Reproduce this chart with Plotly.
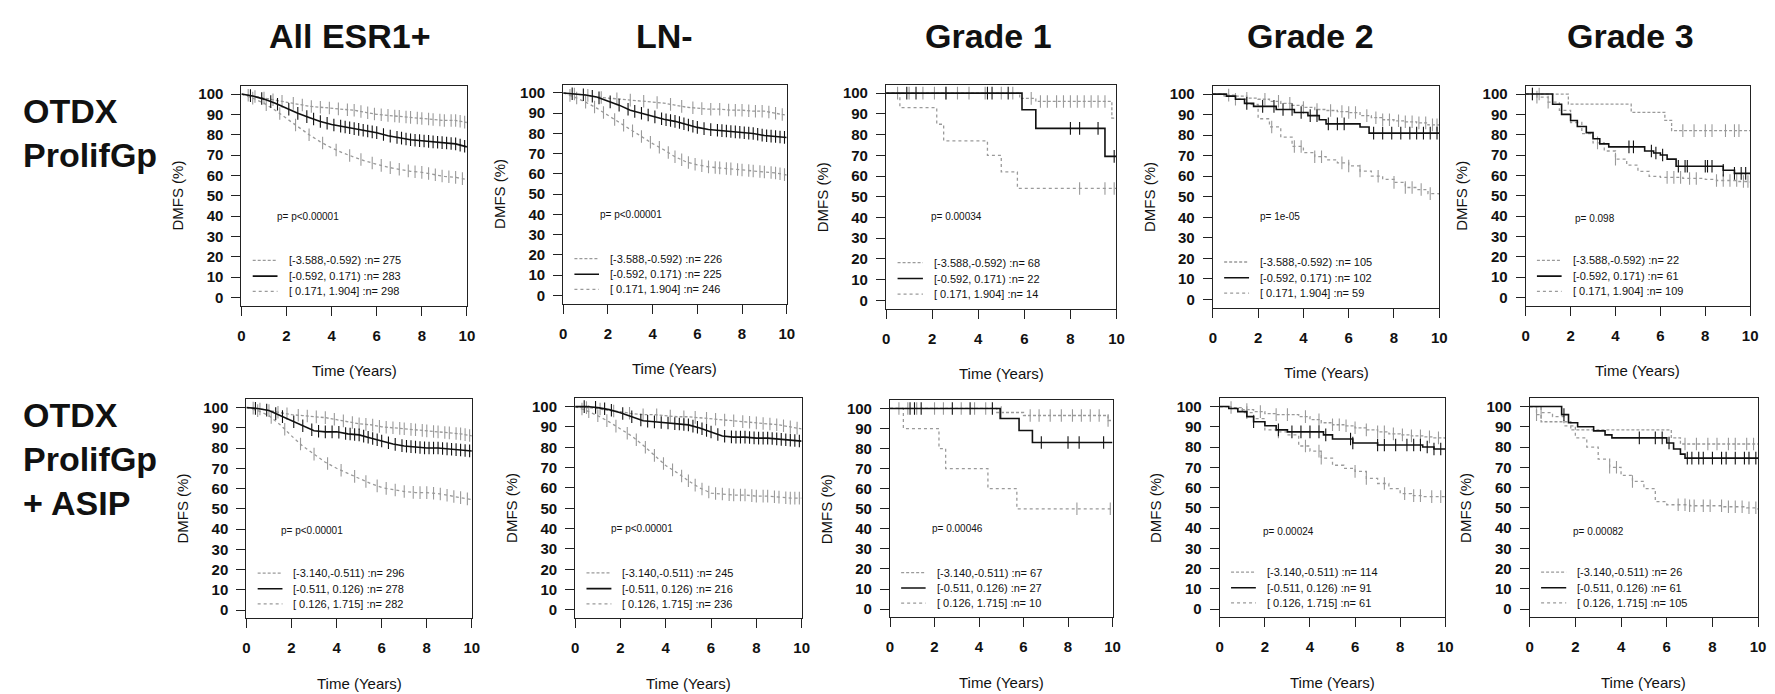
import plotly.graph_objects as go
import numpy as np
from bisect import bisect_right

W, H = 1775, 694

# ---------------- data ----------------
GRID = [0, 0.5, 1, 1.5, 2, 2.5, 3, 3.5, 4, 4.5, 5, 5.5, 6, 6.5, 7, 7.5, 8, 8.5, 9, 9.5, 10]

COL_TITLES = ["All ESR1+", "LN-", "Grade 1", "Grade 2", "Grade 3"]
ROW_LABELS_TOP = ["OTDX", "ProlifGp"]
ROW_LABELS_BOT = ["OTDX", "ProlifGp", "+ ASIP"]

GROUPS_TOP = ["[-3.588,-0.592) :n= ", "[-0.592, 0.171) :n= ", "[ 0.171, 1.904] :n= "]
GROUPS_BOT = ["[-3.140,-0.511) :n= ", "[-0.511, 0.126) :n= ", "[ 0.126, 1.715] :n= "]

N_TOP = [[275, 283, 298], [226, 225, 246], [68, 22, 14], [105, 102, 59], [22, 61, 109]]
N_BOT = [[296, 278, 282], [245, 216, 236], [67, 27, 10], [114, 91, 61], [26, 61, 105]]

P_TOP = ["p= p&lt;0.00001", "p= p&lt;0.00001", "p= 0.00034", "p= 1e-05", "p= 0.098"]
P_BOT = ["p= p&lt;0.00001", "p= p&lt;0.00001", "p= 0.00046", "p= 0.00024", "p= 0.00082"]

# --- Top row: OTDX ProlifGp ---
ALL1_LO = [100, 99, 98, 97, 96, 95, 94, 93.5, 93, 92.5, 92, 91, 90, 89.5, 89, 88.5, 88, 87.5, 87, 87, 86]
ALL1_MID = [100, 99, 97.5, 95.5, 93, 90.5, 88.5, 86.5, 85, 84, 83, 82, 81, 79.5, 78.5, 77.5, 77, 76.5, 76, 75.5, 74]
ALL1_HI = [100, 98, 95.5, 92, 88, 84, 80, 76.5, 73.5, 71, 69, 67, 65.5, 64, 63, 62, 61.5, 60.5, 59.5, 59, 58]

LN1_LO = [100, 99.5, 99, 98, 97.5, 97, 96.5, 96, 95.5, 95, 94, 93, 92.5, 92, 92, 91.5, 91.5, 91, 91, 90, 89]
LN1_MID = [100, 99.5, 99, 98, 96, 94, 91.5, 90, 88.5, 87, 86, 84.5, 83, 82, 81.5, 81, 80.5, 80, 79, 78.5, 78]
LN1_HI = [100, 98, 95.5, 92.5, 89, 85.5, 82, 78.5, 75, 72, 68.5, 66, 64.5, 63.5, 63, 62.5, 62, 61.5, 61, 60.5, 59.5]

G1T_LO_T = [0, 5.8, 6.5, 9.8, 10]
G1T_LO_S = [100, 97.5, 96, 88, 88]
G1T_MID_T = [0, 5.9, 6.5, 9.5, 10]
G1T_MID_S = [100, 92, 83, 69.5, 69.5]
G1T_HI_T = [0, 0.6, 2.2, 2.5, 4.4, 5.0, 5.7, 10]
G1T_HI_S = [100, 93, 85, 77, 70, 62, 54, 54]

G2T_LO = [100, 99.5, 99, 98, 97.5, 96.5, 95.5, 94.5, 93.5, 92.5, 92, 91.5, 91, 89.5, 88.5, 87.5, 87, 86.5, 86, 85, 84.5]
G2T_MID_T = [0, 0.6, 1.0, 1.4, 1.8, 2.8, 3.6, 4.2, 4.7, 5.0, 6.5, 6.9, 10]
G2T_MID_S = [100, 99, 97.5, 95.5, 94, 92.5, 91, 89.5, 87.5, 85.5, 84, 81, 81]
G2T_HI = [100, 99, 97.5, 95, 88, 84, 79, 74.5, 71.5, 69.5, 68, 66.5, 65, 62.5, 60, 58.5, 57, 54.5, 53.5, 51.5, 50]

G3T_LO_T = [0, 1.9, 4.7, 6.2, 6.5, 10]
G3T_LO_S = [100, 95, 91, 87, 82, 82]
G3T_MID_T = [0, 1.2, 1.6, 2.0, 2.3, 2.7, 3.0, 3.3, 3.7, 5.3, 5.7, 6.0, 6.3, 6.7, 8.8, 9.3, 10]
G3T_MID_S = [100, 95, 90, 87, 84, 81, 78, 75.5, 74, 72, 71, 70, 68, 64.5, 62.5, 61, 61]
G3T_HI = [100, 98.5, 96, 92, 86, 80.5, 76, 72, 68, 65, 62, 59.5, 59, 59, 58.5, 58.5, 58, 57.5, 57.5, 57, 56.5]

# --- Bottom row: OTDX ProlifGp + ASIP ---
ALL2_LO = [100, 99.5, 98.5, 97.5, 96.5, 96, 95.5, 95, 94, 93, 92, 91.5, 90.5, 90, 89.5, 89, 88.5, 88, 87.5, 87, 86]
ALL2_MID = [100, 99.5, 98.5, 96, 93.5, 91, 88.5, 88, 88, 87, 86.5, 85, 83.5, 82, 81, 80.5, 80, 80, 79.5, 79, 78.5]
ALL2_HI = [100, 98.5, 96, 91.5, 86, 81, 77, 73, 70, 67.5, 65, 62.5, 60.5, 59.5, 58.5, 58, 58, 57.5, 56.5, 55.5, 54.5]

LN2_LO = [100, 99.5, 99, 98, 97.5, 96.5, 96, 96, 95.5, 95, 95, 94.5, 94, 93.5, 93, 92.5, 92, 91.5, 91, 90, 89]
LN2_MID = [100, 100, 99.5, 98.5, 97, 95, 93, 92.5, 92, 91.5, 91, 89.5, 87.5, 85.5, 85, 85, 84.5, 84.5, 84, 83.5, 83]
LN2_HI = [100, 98, 95.5, 92.5, 89, 85.5, 81, 76, 71, 67.5, 63.5, 60, 57.5, 57, 56.5, 56.5, 56, 56, 55.5, 55, 55]

G1B_LO_T = [0, 4.8, 6.0, 9.8, 10]
G1B_LO_S = [100, 98, 96.5, 94, 94]
G1B_MID_T = [0, 4.95, 5.8, 6.4, 10]
G1B_MID_S = [100, 95, 89, 83, 83]
G1B_HI_T = [0, 0.6, 2.2, 2.5, 4.4, 5.7, 10]
G1B_HI_S = [100, 90, 80, 70, 60, 50, 50]

G2B_LO = [100, 99.5, 98.5, 97.5, 96.5, 96, 96, 95, 93.5, 92, 91, 90.5, 89.5, 88.5, 87.5, 86.5, 86, 85.5, 85, 84.5, 84]
G2B_MID_T = [0, 0.4, 0.8, 1.2, 1.5, 2.0, 2.5, 3.0, 4.6, 5.0, 5.9, 7.0, 9.0, 9.5, 10]
G2B_MID_S = [100, 99, 97.5, 95, 92.5, 90.5, 88.5, 87.5, 86, 84, 82, 81, 80, 79, 79]
G2B_HI = [100, 99, 97, 94, 88.5, 87.5, 86, 80.5, 78, 74.5, 71, 69.5, 68, 64.5, 62, 59.5, 57, 56, 55.5, 55.5, 55]

G3B_LO_T = [0, 0.3, 0.5, 1.8, 6.2, 6.6, 10]
G3B_LO_S = [100, 96, 92.5, 88.5, 84.5, 81.5, 81.5]
G3B_MID_T = [0, 1.4, 1.7, 2.1, 2.8, 3.3, 3.6, 6.0, 6.3, 6.6, 6.8, 10]
G3B_MID_S = [100, 96, 92, 90, 88, 86, 84.5, 82, 79, 76.5, 74.5, 74.5]
G3B_HI = [100, 97, 95, 90.5, 84.5, 80, 74, 70, 66, 63, 59.5, 53, 51.5, 51.5, 51, 51, 51, 50.5, 50.5, 50, 49]

# --- censoring times (read from the "+" marks) ---
C_DENSE_A = [0.3, 0.6, 1.0, 1.4, 1.8, 2.3, 2.7, 3.1, 3.5, 3.9, 4.3, 4.7, 5.0, 5.3, 5.6, 5.9, 6.2, 6.5, 6.8, 7.0,
             7.3, 7.5, 7.8, 8.0, 8.3, 8.5, 8.8, 9.0, 9.3, 9.5, 9.7, 9.9]
C_DENSE_B = [0.4, 0.9, 1.3, 1.6, 2.1, 2.5, 2.9, 3.2, 3.5, 3.8, 4.1, 4.4, 4.6, 4.8, 5.0, 5.2, 5.4, 5.6, 5.8, 6.0,
             6.3, 6.6, 6.9, 7.1, 7.3, 7.5, 7.7, 7.9, 8.1, 8.3, 8.5, 8.7, 8.9, 9.1, 9.3, 9.5, 9.7, 9.9]
C_DENSE_C = [0.5, 1.1, 1.7, 2.4, 3.0, 3.6, 4.2, 4.8, 5.3, 5.8, 6.2, 6.6, 7.0, 7.4, 7.7, 8.0, 8.3, 8.6, 8.9, 9.2,
             9.5, 9.8]

C_G1T = [[0.5, 1.0, 1.6, 2.1, 2.6, 3.1, 3.6, 4.3, 5.0, 5.5, 6.3, 6.7, 7.0, 7.4, 7.7, 8.0, 8.3, 8.6, 8.9, 9.2, 9.5],
         [0.9, 1.3, 2.6, 4.4, 4.6, 5.3, 8.0, 8.4, 9.2, 9.9],
         [8.4, 9.5, 9.9]]
C_G2T = [[0.7, 1.5, 2.3, 2.9, 3.4, 4.0, 4.6, 5.2, 5.7, 6.0, 6.3, 6.8, 7.2, 7.5, 7.8, 8.2, 8.5, 8.8, 9.1, 9.4, 9.7, 9.9],
         [1.5, 2.2, 2.7, 3.1, 3.5, 3.9, 4.3, 4.6, 5.1, 5.5, 5.8, 7.1, 7.5, 7.9, 8.3, 8.7, 9.0, 9.3, 9.6, 9.9],
         [1.0, 2.6, 3.6, 3.9, 4.5, 4.8, 5.7, 6.0, 6.5, 7.3, 8.0, 8.5, 8.8, 9.2, 9.6]]
C_G3T = [[0.3, 0.6, 7.0, 7.5, 8.0, 8.3, 8.9, 9.3, 9.5],
         [0.3, 4.6, 4.8, 5.6, 5.8, 6.1, 6.8, 7.1, 7.2, 8.0, 8.1, 8.3, 8.8, 9.3, 9.6, 9.8],
         [0.5, 1.0, 3.2, 4.0, 6.3, 6.6, 6.9, 7.3, 7.6, 8.5, 8.8, 9.1, 9.4, 9.7, 9.9]]
C_G1B = [[0.4, 0.8, 1.2, 2.0, 2.4, 3.2, 3.8, 4.3, 5.0, 6.3, 6.7, 7.2, 7.7, 8.2, 8.6, 9.0, 9.4, 9.8],
         [0.9, 1.1, 1.4, 2.8, 3.6, 4.6, 6.8, 8.0, 8.5, 9.6],
         [8.4, 9.9]]
C_G2B = [[0.5, 1.2, 1.8, 2.5, 3.0, 3.8, 4.4, 5.0, 5.3, 5.6, 6.0, 6.5, 7.0, 7.3, 7.7, 8.1, 8.5, 8.9, 9.3, 9.7],
         [1.5, 2.6, 3.2, 3.6, 4.0, 4.4, 4.7, 5.8, 5.9, 7.0, 7.3, 7.8, 8.3, 8.6, 8.9, 9.2, 9.5, 9.8],
         [1.2, 2.6, 3.8, 4.4, 4.5, 6.0, 6.5, 7.3, 8.2, 8.6, 8.9, 9.4, 9.8]]
C_G3B = [[0.3, 6.8, 7.3, 7.8, 8.2, 8.7, 9.0, 9.5, 9.8],
         [1.5, 4.8, 5.5, 5.8, 6.1, 6.9, 7.1, 7.4, 7.6, 8.0, 8.4, 8.6, 9.0, 9.4, 9.6, 9.9],
         [0.5, 3.5, 3.8, 4.5, 6.5, 6.8, 7.0, 7.2, 7.6, 7.9, 8.4, 8.7, 9.0, 9.3, 9.6, 9.9]]

# ---------------- table built from the arrays ----------------
# each curve: (times, survival, interpolation, censor times)
PANELS = [
    # top row
    [(GRID, ALL1_LO, "linear", C_DENSE_A), (GRID, ALL1_MID, "linear", C_DENSE_B), (GRID, ALL1_HI, "linear", C_DENSE_C)],
    [(GRID, LN1_LO, "linear", C_DENSE_C), (GRID, LN1_MID, "linear", C_DENSE_B), (GRID, LN1_HI, "linear", C_DENSE_A)],
    [(G1T_LO_T, G1T_LO_S, "hv", C_G1T[0]), (G1T_MID_T, G1T_MID_S, "hv", C_G1T[1]), (G1T_HI_T, G1T_HI_S, "hv", C_G1T[2])],
    [(GRID, G2T_LO, "hv", C_G2T[0]), (G2T_MID_T, G2T_MID_S, "hv", C_G2T[1]), (GRID, G2T_HI, "hv", C_G2T[2])],
    [(G3T_LO_T, G3T_LO_S, "hv", C_G3T[0]), (G3T_MID_T, G3T_MID_S, "hv", C_G3T[1]), (GRID, G3T_HI, "hv", C_G3T[2])],
    # bottom row
    [(GRID, ALL2_LO, "linear", C_DENSE_A), (GRID, ALL2_MID, "linear", C_DENSE_B), (GRID, ALL2_HI, "linear", C_DENSE_C)],
    [(GRID, LN2_LO, "linear", C_DENSE_C), (GRID, LN2_MID, "linear", C_DENSE_B), (GRID, LN2_HI, "linear", C_DENSE_A)],
    [(G1B_LO_T, G1B_LO_S, "hv", C_G1B[0]), (G1B_MID_T, G1B_MID_S, "hv", C_G1B[1]), (G1B_HI_T, G1B_HI_S, "hv", C_G1B[2])],
    [(GRID, G2B_LO, "hv", C_G2B[0]), (G2B_MID_T, G2B_MID_S, "hv", C_G2B[1]), (GRID, G2B_HI, "hv", C_G2B[2])],
    [(G3B_LO_T, G3B_LO_S, "hv", C_G3B[0]), (G3B_MID_T, G3B_MID_S, "hv", C_G3B[1]), (GRID, G3B_HI, "hv", C_G3B[2])],
]
LEGENDS = [[GROUPS_TOP[g] + str(N_TOP[c][g]) for g in range(3)] for c in range(5)] + \
          [[GROUPS_BOT[g] + str(N_BOT[c][g]) for g in range(3)] for c in range(5)]
PVALS = P_TOP + P_BOT

# ---------------- layout (pixel boxes of each plot region) ----------------
BOXES = [  # left, right, top, bottom
    (231, 458, 77, 297), (555, 780, 76, 295), (880, 1112, 76, 300), (1209, 1437, 77, 299), (1524, 1750, 77, 297),
    (236, 463, 391, 610), (567, 795, 390, 610), (884, 1108, 392, 609), (1216, 1443, 390, 609), (1528, 1758, 390, 609),
]
P_POS = [(1.5, 40), (1.55, 40), (1.85, 40.5), (2.0, 40.5), (2.1, 39),
         (1.45, 39.5), (1.5, 40), (1.8, 40), (1.85, 38.5), (1.8, 38.5)]
TITLE_X = [340, 657, 983, 1307, 1630]

FONT = "Liberation Sans, Arial, sans-serif"
GRAY = "#9a9a9a"
STYLES = [
    dict(color=GRAY, width=1.3, dash="3px,2px"),
    dict(color="#111111", width=1.6, dash="solid"),
    dict(color=GRAY, width=1.3, dash="dot"),
]
LEG_ROWS = [18.2, 10.5, 3.0]


def value_at(t, s, shape, tc):
    if shape == "linear":
        return float(np.interp(tc, t, s))
    i = bisect_right(t, tc) - 1
    return s[max(i, 0)]


fig = go.Figure()
annotations = []
shapes = []

for k, (curves, box) in enumerate(zip(PANELS, BOXES), start=1):
    xa = "x" if k == 1 else f"x{k}"
    ya = "y" if k == 1 else f"y{k}"
    L, R, T, B = box
    for g in (0, 2, 1):
        t, s, shape, cens = curves[g]
        st = STYLES[g]
        fig.add_trace(go.Scatter(
            x=t, y=s, mode="lines", xaxis=xa, yaxis=ya, showlegend=False, hoverinfo="skip",
            line=dict(color=st["color"], width=st["width"], dash=st["dash"], shape=shape)))
        cy = [value_at(t, s, shape, c) for c in cens]
        fig.add_trace(go.Scatter(
            x=cens, y=cy, mode="markers", xaxis=xa, yaxis=ya, showlegend=False, hoverinfo="skip",
            marker=dict(symbol="line-ns-open", size=9, color=st["color"],
                        line=dict(color=st["color"], width=1.1))))

    axkey = "" if k == 1 else str(k)
    common = dict(showline=True, linecolor="#222", linewidth=1.2, mirror=True, ticks="outside",
                  ticklen=9, tickwidth=1.2, tickcolor="#222", showgrid=False, zeroline=False,
                  tickfont=dict(family=FONT, size=15, color="#111", weight="bold"))
    fig.layout["xaxis" + axkey] = dict(domain=[L / W, R / W], anchor=ya, range=[0, 10],
                                       tickvals=[0, 2, 4, 6, 8, 10], ticklabelstandoff=7, **common)
    fig.layout["yaxis" + axkey] = dict(domain=[(H - B) / H, (H - T) / H], anchor=xa, range=[-4, 104],
                                       tickvals=list(range(0, 101, 10)), ticklabelstandoff=5, **common)

    # axis titles
    annotations.append(dict(text="DMFS (%)", xref="paper", yref=ya, x=(L - 64) / W, y=50,
                            textangle=-90, showarrow=False, xanchor="center", yanchor="middle",
                            font=dict(family=FONT, size=15, color="#111")))
    annotations.append(dict(text="Time (Years)", xref=xa, yref="paper", x=5, y=(H - (B + 65)) / H,
                            showarrow=False, xanchor="center", yanchor="middle",
                            font=dict(family=FONT, size=15, color="#111")))
    # p value
    px, py = P_POS[k - 1]
    annotations.append(dict(text=PVALS[k - 1], xref=xa, yref=ya, x=px, y=py, showarrow=False,
                            xanchor="left", yanchor="middle", font=dict(family=FONT, size=10, color="#111")))
    # legend
    for g in range(3):
        st = STYLES[g]
        shapes.append(dict(type="line", xref=xa, yref=ya, x0=0.5, x1=1.6, y0=LEG_ROWS[g], y1=LEG_ROWS[g],
                           line=dict(color=st["color"], width=st["width"], dash=st["dash"])))
        annotations.append(dict(text=LEGENDS[k - 1][g], xref=xa, yref=ya, x=2.0, y=LEG_ROWS[g],
                                showarrow=False, xanchor="left", yanchor="middle",
                                font=dict(family=FONT, size=11, color="#111")))

# column titles
for c, title in enumerate(COL_TITLES):
    annotations.append(dict(text=f"<b>{title}</b>", xref="paper", yref="paper", x=TITLE_X[c] / W,
                            y=(H - 27) / H, showarrow=False, xanchor="center", yanchor="middle",
                            font=dict(family=FONT, size=34, color="#111")))
# row labels
for lbl, yy in zip(ROW_LABELS_TOP, [102, 146]):
    annotations.append(dict(text=f"<b>{lbl}</b>", xref="paper", yref="paper", x=9 / W, y=(H - yy) / H,
                            showarrow=False, xanchor="left", yanchor="middle",
                            font=dict(family=FONT, size=34, color="#111")))
for lbl, yy in zip(ROW_LABELS_BOT, [407, 451, 495]):
    annotations.append(dict(text=f"<b>{lbl}</b>", xref="paper", yref="paper", x=9 / W, y=(H - yy) / H,
                            showarrow=False, xanchor="left", yanchor="middle",
                            font=dict(family=FONT, size=34, color="#111")))

fig.update_layout(width=W, height=H, autosize=False, margin=dict(l=0, r=0, t=0, b=0),
                  paper_bgcolor="white", plot_bgcolor="white",
                  annotations=annotations, shapes=shapes)

fig.write_html("out.html")
